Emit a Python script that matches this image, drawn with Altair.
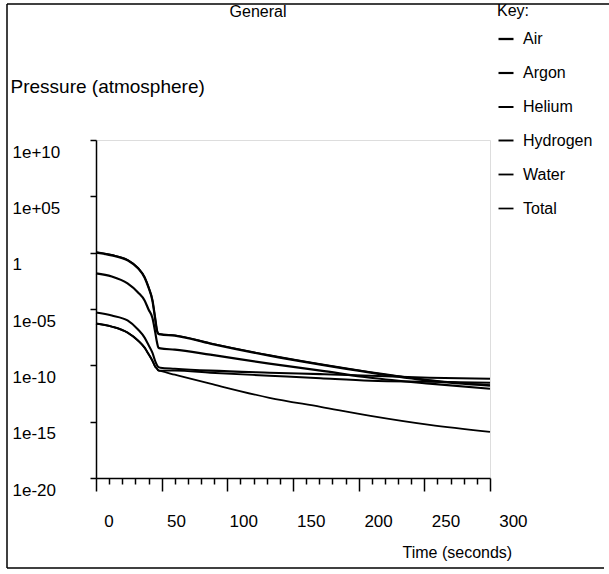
import altair as alt
import pandas as pd

# ---------------- data ----------------
series = ["Air", "Argon", "Helium", "Hydrogen", "Water", "Total"]
time_s = [0, 12, 24, 32, 37, 40, 43, 45, 46.5, 47.5, 49, 60, 87, 132, 171, 209, 254, 300]
air_log10 = [0.0, -0.24, -0.68, -1.39, -2.20, -3.09, -4.26, -5.8, -6.95, -7.2, -7.25, -7.36, -8.07, -9.14, -9.94, -10.65, -11.36, -11.81]
argon_log10 = [-1.84, -2.11, -2.73, -3.53, -4.24, -5.04, -5.8, -7.0, -8.0, -8.43, -8.5, -8.61, -9.05, -9.85, -10.47, -11.10, -11.63, -12.08]
helium_log10 = [-5.31, -5.58, -6.02, -6.82, -7.54, -8.2, -8.9, -9.6, -10.0, -10.15, -10.21, -10.30, -10.47, -10.65, -10.78, -10.92, -11.10, -11.19]
hydrogen_log10 = [-6.29, -6.56, -7.09, -7.80, -8.43, -9.0, -9.6, -10.1, -10.3, -10.45, -10.47, -10.47, -10.65, -10.92, -11.15, -11.36, -11.45, -11.54]
water_log10 = [-6.29, -6.56, -7.09, -7.80, -8.43, -9.0, -9.6, -10.1, -10.3, -10.45, -10.5, -10.83, -11.63, -12.88, -13.68, -14.48, -15.28, -15.90]
total_log10 = [0.05, -0.2, -0.64, -1.35, -2.17, -3.06, -4.23, -5.77, -6.92, -7.17, -7.22, -7.33, -8.04, -9.1, -9.9, -10.6, -11.3, -11.75]

x_tick_values = list(range(0, 301, 10))
x_label_values = [0, 50, 100, 150, 200, 250, 300]
y_tick_values = [1e10, 1e5, 1, 1e-5, 1e-10, 1e-15, 1e-20]

# ---------------- tables ----------------
logs = {
    "Air": air_log10, "Argon": argon_log10, "Helium": helium_log10,
    "Hydrogen": hydrogen_log10, "Water": water_log10, "Total": total_log10,
}
rows = []
for name in series:
    for t, lv in zip(time_s, logs[name]):
        rows.append({"time": t, "pressure": 10 ** lv, "gas": name})
df = pd.DataFrame(rows)

FONT = "Liberation Sans"

y_label_expr = (
    "datum.value == 1 ? '1' : '1e' + (datum.value > 1 ? '+' : '-') + "
    "(abs(round(log(datum.value)/LN10)) < 10 ? '0' : '') + "
    "toString(abs(round(log(datum.value)/LN10)))"
)

lines = alt.Chart(df).mark_line(interpolate="monotone").encode(
    x=alt.X("time:Q",
            scale=alt.Scale(domain=[0, 300], nice=False, zero=False),
            axis=alt.Axis(values=x_tick_values, labels=False, grid=False,
                          orient="bottom", title=None,
                          domainColor="black", domainWidth=1.5,
                          tickColor="black", tickWidth=1.5,
                          tickSize={"condition": {"test": "datum.value % 50 === 0", "value": 13},
                                    "value": 6})),
    y=alt.Y("pressure:Q",
            scale=alt.Scale(type="log", domain=[1e-20, 1e10], nice=False),
            axis=alt.Axis(values=y_tick_values, grid=False,
                          labelExpr=y_label_expr,
                          labelAlign="left", labelBaseline="middle",
                          labelPadding=78, labelOffset=12, labelFlush=False,
                          labelFont=FONT, labelFontSize=17, labelColor="black",
                          domainColor="black", domainWidth=1.5,
                          tickColor="black", tickWidth=1.5, tickSize=6,
                          title="Pressure (atmosphere)", titleAngle=0,
                          titleX=-86, titleY=-54, titleAlign="left",
                          titleBaseline="middle", titleFont=FONT,
                          titleFontSize=19, titleFontWeight="normal",
                          titleColor="black")),
    color=alt.Color("gas:N",
                    scale=alt.Scale(domain=series, range=["black"] * 6),
                    legend=alt.Legend(title="Key:", orient="none",
                                      legendX=401, legendY=-137)),
    strokeWidth=alt.StrokeWidth("gas:N",
                                scale=alt.Scale(domain=series,
                                                range=[2.3, 1.7, 1.7, 1.7, 1.7, 2.0]),
                                legend=alt.Legend(title="Key:", orient="none",
                                                  legendX=401, legendY=-137)),
    detail="gas:N",
)

label_df = pd.DataFrame({"v": x_label_values})
xlabels = alt.Chart(label_df).mark_point(opacity=0).encode(
    x=alt.X("v:Q",
            scale=alt.Scale(domain=[0, 300], range=[12.5, 416.9], nice=False, zero=False),
            axis=alt.Axis(values=x_label_values, orient="bottom", grid=False,
                          ticks=False, tickSize=0, domain=False,
                          labelFlush=False, labelOverlap=False,
                          labelPadding=35, labelFont=FONT, labelFontSize=17,
                          labelColor="black", labelBaseline="top",
                          title="Time (seconds)", titleX=306, titleY=74,
                          titleAlign="left", titleBaseline="middle",
                          titleAnchor="start",
                          titleFont=FONT, titleFontSize=16,
                          titleFontWeight="normal", titleColor="black")),
)

title_df = pd.DataFrame({"label": ["General"]})
title_text = alt.Chart(title_df).mark_text(
    font=FONT, fontSize=16, color="black", align="center", baseline="middle"
).encode(text="label:N", x=alt.value(162), y=alt.value(-128))

# outer frame of the figure (top, left and bottom edges), both ends given
frame_df = pd.DataFrame({"k": [0]})
frame_top = alt.Chart(frame_df).mark_rule(color="black", strokeWidth=1.5).encode(
    x=alt.value(-89), x2=alt.value(515), y=alt.value(-136), y2=alt.value(-136))
frame_left = alt.Chart(frame_df).mark_rule(color="black", strokeWidth=1.5).encode(
    x=alt.value(-89), x2=alt.value(-89), y=alt.value(-136), y2=alt.value(428))
frame_bottom = alt.Chart(frame_df).mark_rule(color="black", strokeWidth=1.5).encode(
    x=alt.value(-89), x2=alt.value(508), y=alt.value(428), y2=alt.value(428))

chart = alt.layer(frame_top, frame_left, frame_bottom, lines, xlabels, title_text).resolve_scale(
    x="independent"
).properties(
    width=394, height=338,
    autosize=alt.AutoSizeParams(type="none"),
    padding={"left": 96, "top": 140, "right": 119, "bottom": 96},
).configure_view(
    stroke=None
).configure(
    font=FONT
).configure_legend(
    titleFont=FONT, titleFontSize=16, titleFontWeight="normal", titleColor="black",
    titlePadding=11, labelFont=FONT, labelFontSize=16, labelColor="black",
    labelOffset=8, symbolType="stroke", symbolSize=225, symbolStrokeColor="black",
    rowPadding=17, padding=0,
).configure_axis(
    labelFont=FONT, titleFont=FONT
)

chart.save("out.html", embed_options={"renderer": "svg", "actions": False})
